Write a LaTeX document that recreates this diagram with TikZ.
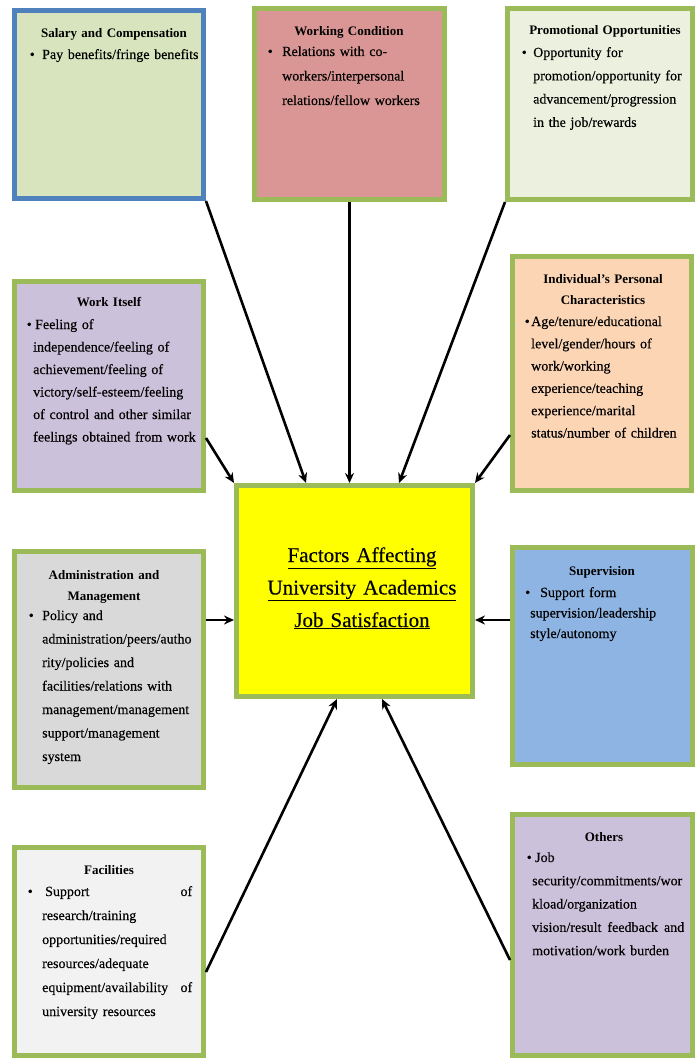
\documentclass[tikz,border=0pt]{standalone}
\usepackage{fontspec}
\setmainfont{Liberation Serif}[UprightFeatures={FakeBold=0.3}]
\usetikzlibrary{arrows.meta}
\definecolor{bgreen}{HTML}{9BBB59}
\definecolor{bblue}{HTML}{4F81BD}
\definecolor{salfill}{HTML}{D7E4BD}
\definecolor{wcfill}{HTML}{D99694}
\definecolor{profill}{HTML}{EBF1DE}
\definecolor{wifill}{HTML}{CCC1DA}
\definecolor{indfill}{HTML}{FCD5B5}
\definecolor{admfill}{HTML}{D9D9D9}
\definecolor{supfill}{HTML}{8EB4E3}
\definecolor{facfill}{HTML}{F2F2F2}
\definecolor{othfill}{HTML}{CCC1DA}
\definecolor{ctrfill}{HTML}{FFFF00}
\tikzset{
  box/.style={draw=bgreen, line width=5pt, rectangle},
  ttl/.style={font=\fontsize{13}{21}\selectfont\bfseries, text width=185pt, align=center, anchor=base, inner sep=0pt},
  body/.style={font=\fontsize{14}{#1}\selectfont, text width=165pt, align=left, anchor=base west, inner sep=0pt},
  arr/.style={line width=2.6pt, -{Stealth[length=10pt,width=9pt]}},
}
\newcommand{\bul}[1]{\llap{\textbullet\hspace{#1}}}
\begin{document}
\begin{tikzpicture}[x=1pt,y=-1pt]
\useasboundingbox (0,0) rectangle (700,1059);
% boxes
\node[box, draw=bblue, fill=salfill, minimum width=189pt, minimum height=188pt] (sal) at (109,104.5) {};
\node[box, fill=wcfill, minimum width=190pt, minimum height=191pt] (wc) at (349.5,104) {};
\node[box, fill=profill, minimum width=185pt, minimum height=191pt] (pro) at (600,104) {};
\node[box, fill=wifill, minimum width=189pt, minimum height=209pt] (wi) at (109,386) {};
\node[box, fill=indfill, minimum width=179pt, minimum height=234pt] (ind) at (602,373.5) {};
\node[box, fill=ctrfill, minimum width=236pt, minimum height=211pt] (ctr) at (354.5,591) {};
\node[box, fill=admfill, minimum width=189pt, minimum height=236pt] (adm) at (109,669.5) {};
\node[box, fill=supfill, minimum width=180pt, minimum height=217pt] (sup) at (602.5,656) {};
\node[box, fill=facfill, minimum width=189pt, minimum height=208pt] (fac) at (109,951.5) {};
\node[box, fill=othfill, minimum width=180pt, minimum height=241pt] (oth) at (602.5,935) {};
% texts
\node[ttl] (sal-t) at (114,38) {Salary and Compensation};
\node[body=23pt] (sal-b) at (42,59) {\bul{7.5pt}Pay benefits/fringe benefits};
\node[ttl] (wc-t) at (349,36) {Working Condition};
\node[body=24.5pt] (wc-b) at (282,56) {\bul{9.5pt}Relations with co-\\workers/interpersonal\\relations/fellow workers};
\node[ttl] (pro-t) at (605,35) {Promotional Opportunities};
\node[body=23.3pt] (pro-b) at (533,57) {\bul{6.5pt}Opportunity for\\promotion/opportunity for\\advancement/progression\\in the job/rewards};
\node[ttl] (wi-t) at (109,306) {Work Itself};
\node[body=22.5pt] (wi-b) at (33,329) {\bul{1.5pt}\hspace{2pt}Feeling of\\independence/feeling of\\achievement/feeling of\\victory/self-esteem/feeling\\of control and other similar\\feelings obtained from work};
\node[ttl] (ind-t) at (603,283) {Individual's Personal\\Characteristics};
\node[body=22.3pt] (ind-b) at (531,326) {\bul{1.5pt}Age/tenure/educational\\level/gender/hours of\\work/working\\experience/teaching\\experience/marital\\status/number of children};
\node[font=\fontsize{21}{32.5}\selectfont, text width=230pt, align=center, anchor=base, inner sep=0pt] (ctr-t) at (362,562) {\underline{Factors Affecting}\\\underline{University Academics}\\\underline{Job Satisfaction}};
\node[ttl] (adm-t) at (104,579) {Administration and\\Management};
\node[body=23.5pt] (adm-b) at (42,620) {\bul{8.5pt}Policy and\\administration/peers/autho\\rity/policies and\\facilities/relations with\\management/management\\support/management\\system};
\node[ttl] (sup-t) at (602,575) {Supervision};
\node[body=20.5pt] (sup-b) at (530,597) {\bul{0pt}\hspace{10pt}Support form\\supervision/leadership\\style/autonomy};
\node[ttl] (fac-t) at (109,874) {Facilities};
\node[body=24pt, text width=150pt] (fac-b) at (42,896) {\bul{9.5pt}\hspace{3pt}Support\hfill of\\research/training\\opportunities/required\\resources/adequate\\equipment/availability\hfill of\\university resources};
\node[ttl] (oth-t) at (604,841) {Others};
\node[body=23.3pt, text width=152pt] (oth-b) at (532,862) {\bul{0.5pt}\hspace{3pt}Job\\security/commitments/wor\\kload/organization\\vision/result\hfill feedback\hfill and\\motivation/work burden};
% arrows
\draw[arr] (sal.south east) -- ([xshift=72pt]ctr.north west);
\draw[arr] (wc.south) -- (wc.south |- ctr.north);
\draw[arr] (pro.south west) -- ([xshift=165pt]ctr.north west);
\draw[arr] ([yshift=55pt]wi.south east) -- (ctr.north west);
\draw[arr] ([yshift=58pt]ind.south west) -- (ctr.north east);
\draw[arr] ([yshift=49.5pt]adm.east) -- ([yshift=49.5pt]adm.east -| ctr.west);
\draw[arr] ([yshift=36pt]sup.west) -- ([yshift=36pt]sup.west -| ctr.east);
\draw[arr] ([yshift=86pt]fac.south east) -- ([xshift=103pt]ctr.south west);
\draw[arr] ([yshift=98pt]oth.south west) -- ([xshift=148pt]ctr.south west);
\end{tikzpicture}
\end{document}
